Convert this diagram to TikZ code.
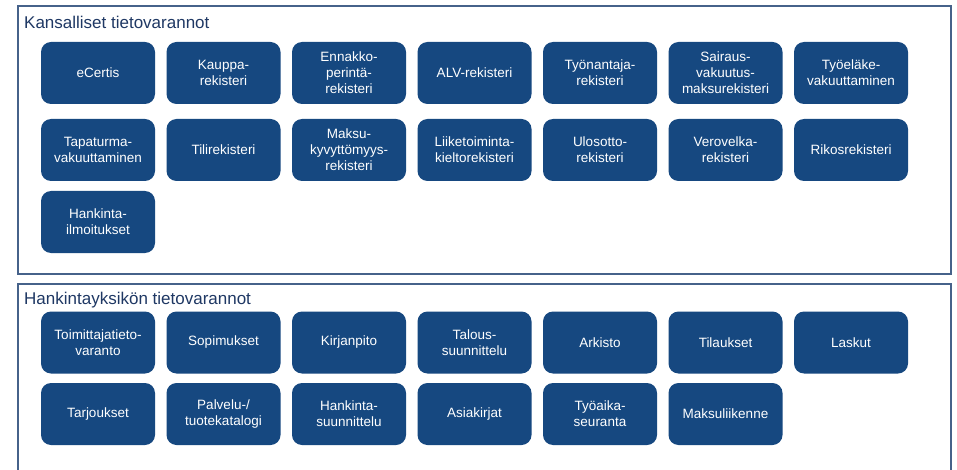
\documentclass[tikz,border=0pt]{standalone}
\usepackage{fontspec}
\setmainfont{Liberation Sans}
\definecolor{boxblue}{RGB}{22,72,128}
\definecolor{framegray}{RGB}{70,98,138}
\definecolor{titlenavy}{RGB}{31,56,100}

\begin{document}
\begin{tikzpicture}[x=1pt, y=-1pt,
  tietobox/.style={fill=boxblue, draw=none, rounded corners=10pt, minimum width=114pt, minimum height=62pt,
    text=white, align=center, inner sep=2pt, font=\fontsize{13.5}{16}\selectfont},
  kehys/.style={draw=framegray, line width=1.6pt},
  otsikko/.style={anchor=west, text=titlenavy, inner sep=0pt, font=\fontsize{17}{20}\selectfont}]
\useasboundingbox (0,0) rectangle (957,470);
\fill[white] (0,0) rectangle (957,470);
% kansalliset
\draw[kehys] (18,6) rectangle (951,274);
\node[otsikko] (kansalliset) at (24,22) {Kansalliset tietovarannot};
\foreach \nm/\txt [count=\c from 0] in {ecertis/eCertis, kauppa/{Kauppa-\\rekisteri}, ennakko/{Ennakko-\\perintä-\\rekisteri},
  alv/ALV-rekisteri, tyonantaja/{Työnantaja-\\rekisteri}, sairaus/{Sairaus-\\vakuutus-\\maksurekisteri},
  tyoelake/{Työeläke-\\vakuuttaminen}}{
\node[tietobox] (\nm) at (98+125.5*\c, 73) {\txt};
}
\foreach \nm/\txt [count=\c from 0] in {tapaturma/{Tapaturma-\\vakuuttaminen}, tili/Tilirekisteri, maksukyv/{Maksu-\\kyvyttömyys-\\rekisteri},
  liiketoiminta/{Liiketoiminta-\\kieltorekisteri}, ulosotto/{Ulosotto-\\rekisteri}, verovelka/{Verovelka-\\rekisteri},
  rikos/Rikosrekisteri}{
\node[tietobox] (\nm) at (98+125.5*\c, 150) {\txt};
}
\node[tietobox] (hankintailm) at (98, 222) {Hankinta-\\ilmoitukset};
% hankintayksikko
\draw[kehys] (18,474) -- (18,284) -- (951,284) -- (951,474);
\node[otsikko] (hankintayksikko) at (24,300) {Hankintayksikön tietovarannot};
\foreach \nm/\txt [count=\c from 0] in {toimittaja/{Toimittajatieto-\\varanto}, sopimukset/Sopimukset, kirjanpito/Kirjanpito,
  talous/{Talous-\\suunnittelu}, arkisto/Arkisto, tilaukset/Tilaukset, laskut/Laskut}{
\node[tietobox] (\nm) at (98+125.5*\c, 342.5) {\txt};
}
\foreach \nm/\txt [count=\c from 0] in {tarjoukset/Tarjoukset, palvelu/{Palvelu-/\\tuotekatalogi}, hankintasuun/{Hankinta-\\suunnittelu},
  asiakirjat/Asiakirjat, tyoaika/{Työaika-\\seuranta}, maksuliikenne/Maksuliikenne}{
\node[tietobox] (\nm) at (98+125.5*\c, 414) {\txt};
}
\end{tikzpicture}
\end{document}
